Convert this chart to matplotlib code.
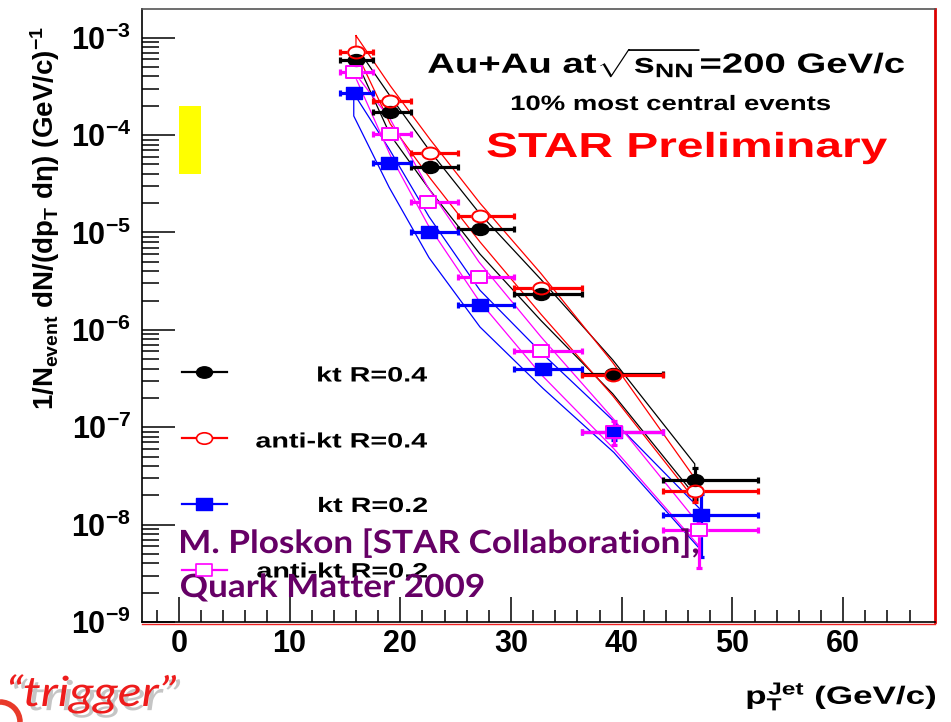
import numpy as np
import matplotlib
matplotlib.use("Agg")
import matplotlib.pyplot as plt
from matplotlib.path import Path
from matplotlib.transforms import Affine2D
from matplotlib.lines import Line2D
from matplotlib.patches import Rectangle, Arc, PathPatch
from matplotlib.textpath import TextPath
from matplotlib.font_manager import FontProperties
import matplotlib.patheffects as pe
from matplotlib.ticker import FixedLocator, FuncFormatter, NullFormatter

plt.rcParams['font.family'] = ['Liberation Sans', 'DejaVu Sans']
plt.rcParams['mathtext.fontset'] = 'custom'
plt.rcParams['mathtext.rm'] = 'Liberation Sans:bold'
plt.rcParams['mathtext.it'] = 'Liberation Sans:bold'
plt.rcParams['mathtext.bf'] = 'Liberation Sans:bold'
plt.rcParams['mathtext.sf'] = 'Liberation Sans:bold'

# ---------------- data ----------------
bin_edges = [14.6, 17.5, 21.0, 25.2, 30.3, 36.4, 43.7, 52.3]

kt04_x = [16.0, 19.1, 22.7, 27.2, 32.7, 39.2, 46.6]
kt04_y = [5.9e-4, 1.73e-4, 4.72e-5, 1.08e-5, 2.32e-6, 3.56e-7, 2.85e-8]
kt04_err = [1.0e-5, 3.0e-6, 8.0e-7, 2.0e-7, 6.0e-8, 1.5e-8, 1.0e-8]
kt04_up = [8.1e-4, 2.5e-4, 6.8e-5, 1.55e-5, 3.3e-6, 4.9e-7, 4.2e-8]
kt04_lo = [5.9e-4, 1.0e-4, 2.7e-5, 6.0e-6, 1.25e-6, 2.2e-7, 2.0e-8]

akt04_x = [16.0, 19.1, 22.7, 27.2, 32.7, 39.2, 46.6]
akt04_y = [7.2e-4, 2.23e-4, 6.5e-5, 1.48e-5, 2.72e-6, 3.47e-7, 2.2e-8]
akt04_err = [1.2e-5, 4.0e-6, 1.0e-6, 3.0e-7, 7.0e-8, 1.5e-8, 0.5e-8]
akt04_up = [1.05e-3, 3.2e-4, 9.0e-5, 2.0e-5, 3.8e-6, 4.6e-7, 3.0e-8]
akt04_lo = [7.2e-4, 1.3e-4, 3.6e-5, 8.0e-6, 1.45e-6, 2.1e-7, 1.8e-8]

kt02_x = [15.8, 19.0, 22.6, 27.2, 32.9, 39.3, 47.2]
kt02_y = [2.68e-4, 5.19e-5, 1.0e-5, 1.79e-6, 4.0e-7, 8.9e-8, 1.27e-8]
kt02_err = [6.0e-6, 1.0e-6, 2.0e-7, 4.0e-8, 1.2e-8, 1.5e-8, 0.8e-8]
kt02_up = [2.68e-4, 7.2e-5, 1.45e-5, 2.55e-6, 5.6e-7, 1.15e-7, 1.4e-8]
kt02_lo = [1.57e-4, 2.9e-5, 5.5e-6, 1.07e-6, 2.5e-7, 5.5e-8, 5.4e-9]

akt02_x = [15.8, 19.1, 22.5, 27.1, 32.7, 39.3, 47.0]
akt02_y = [4.48e-4, 1.02e-4, 2.06e-5, 3.5e-6, 6.07e-7, 9.0e-8, 8.9e-9]
akt02_err = [8.0e-6, 2.0e-6, 5.0e-7, 8.0e-8, 1.8e-8, 2.5e-8, 5.3e-9]
akt02_up = [4.48e-4, 1.45e-4, 2.9e-5, 5.0e-6, 8.5e-7, 1.2e-7, 1.0e-8]
akt02_lo = [4.3e-4, 6.2e-5, 1.2e-5, 2.0e-6, 3.5e-7, 6.0e-8, 6.0e-9]

norm_box_x = [0.0, 2.0]
norm_box_y = [4.0e-5, 2.0e-4]

legend_labels = ["kt R=0.4", "anti-kt R=0.4", "kt R=0.2", "anti-kt R=0.2"]
x_ticks = [0, 10, 20, 30, 40, 50, 60]
y_decades = [-9, -8, -7, -6, -5, -4, -3]

# ---------------- styles ----------------
ellipse = Path.unit_circle().transformed(Affine2D().scale(1.4, 1.0))
rect = Path([(-1.3, -1), (1.3, -1), (1.3, 1), (-1.3, 1), (-1.3, -1)],
            [Path.MOVETO, Path.LINETO, Path.LINETO, Path.LINETO, Path.CLOSEPOLY])

series = [
    dict(x=kt04_x, y=kt04_y, e=kt04_err, up=kt04_up, lo=kt04_lo, c='black',
         m=ellipse, ms=12, hollow=False),
    dict(x=akt04_x, y=akt04_y, e=akt04_err, up=akt04_up, lo=akt04_lo, c='#ff0000',
         m=ellipse, ms=12, hollow=True),
    dict(x=kt02_x, y=kt02_y, e=kt02_err, up=kt02_up, lo=kt02_lo, c='#0000ff',
         m=rect, ms=12, hollow=False),
    dict(x=akt02_x, y=akt02_y, e=akt02_err, up=akt02_up, lo=akt02_lo, c='#ff00ff',
         m=rect, ms=12, hollow=True),
]

W, H = 951, 722
fig = plt.figure(figsize=(W / 100, H / 100), dpi=100)
ax = fig.add_axes([142.3 / W, 1 - 622 / H, (935 - 142.3) / W, (622 - 9) / H])
ax.set_yscale('log')
ax.set_xlim(-3.3, 68.3)
ax.set_ylim(1e-9, 1.97e-3)


def px_text(x, y, s, size, sx=1.0, ha='left', color='black', family='Liberation Sans',
            weight='bold', style='normal', effects=None):
    """Text drawn as a path with its baseline at pixel row y, widened by sx."""
    fp = FontProperties(family=family, weight=weight, style=style)
    tp = TextPath((0, 0), s, size=size * 100 / 72, prop=fp)
    ext = tp.get_extents()
    if ha == 'right':
        x0 = x - ext.x1 * sx
    elif ha == 'center':
        x0 = x - 0.5 * (ext.x0 + ext.x1) * sx
    else:
        x0 = x - ext.x0 * sx
    tr = (Affine2D().scale(sx, 1).translate(x0, H - y).scale(1 / W, 1 / H)
          + fig.transFigure)
    patch = PathPatch(tp, transform=tr, facecolor=color, edgecolor='none', lw=0)
    if effects:
        patch.set_path_effects(effects)
    fig.add_artist(patch)
    return patch


# normalisation uncertainty box
ax.add_patch(Rectangle((norm_box_x[0], norm_box_y[0]), norm_box_x[1] - norm_box_x[0],
                       norm_box_y[1] - norm_box_y[0], facecolor='#ffff00',
                       edgecolor='none', zorder=1))

# systematic bands as closed outlines
for s in series:
    bx = list(s['x']) + list(s['x'])[::-1] + [s['x'][0]]
    by = list(s['up']) + list(s['lo'])[::-1] + [s['up'][0]]
    ax.plot(bx, by, color=s['c'], lw=0.9, zorder=2)

# error bars
for s in series:
    x = np.array(s['x'])
    lo_edge = np.array(bin_edges[:-1])
    hi_edge = np.array(bin_edges[1:])
    xerr = [x - lo_edge, hi_edge - x]
    ax.errorbar(x, s['y'], xerr=xerr, yerr=s['e'], fmt='none', ecolor=s['c'],
                elinewidth=2.3, capsize=2.2, capthick=2.3, zorder=3)

# markers: white backs for hollow, then filled, then hollow outlines
for s in series:
    if s['hollow']:
        ax.plot(s['x'], s['y'], ls='none', marker=s['m'], ms=s['ms'],
                mfc='white', mec='white', zorder=4)
for s in series:
    if not s['hollow']:
        ax.plot(s['x'], s['y'], ls='none', marker=s['m'], ms=s['ms'],
                mfc=s['c'], mec=s['c'], zorder=5)
for s in series:
    if s['hollow']:
        ax.plot(s['x'], s['y'], ls='none', marker=s['m'], ms=s['ms'],
                mfc='none', mec=s['c'], mew=1.4, zorder=6)

# axes frame and ticks
for side in ['top', 'left', 'bottom']:
    ax.spines[side].set_color('black')
    ax.spines[side].set_linewidth(1.2)
ax.spines['top'].set_color('#555555')
ax.spines['right'].set_color('#dd0000')
ax.spines['right'].set_linewidth(2.0)

ax.xaxis.set_major_locator(FixedLocator(x_ticks))
ax.xaxis.set_minor_locator(FixedLocator(np.arange(-2, 68, 2)))
ax.yaxis.set_major_locator(FixedLocator([10.0 ** d for d in y_decades]))
minors = [m * 10.0 ** d for d in range(-9, -2) for m in range(2, 10)]
ax.yaxis.set_minor_locator(FixedLocator(minors))
ax.yaxis.set_minor_formatter(NullFormatter())
ax.yaxis.set_major_formatter(FuncFormatter(
    lambda v, p: r'$\mathbf{10^{%d}}$' % int(round(np.log10(v)))))
ax.xaxis.set_major_formatter(FuncFormatter(lambda v, p: '%d' % v))

ax.tick_params(axis='x', which='major', direction='in', length=18, width=1.1,
               labelsize=22, pad=5, top=False)
ax.tick_params(axis='x', which='minor', direction='in', length=9, width=1.1, top=False)
ax.tick_params(axis='y', which='major', direction='in', length=24, width=1.1,
               labelsize=22, pad=8, right=False)
ax.tick_params(axis='y', which='minor', direction='in', length=12, width=1.1, right=False)
for lab in ax.get_xticklabels():
    lab.set_fontweight('bold')

# red slide line under the bottom axis
fig.add_artist(Line2D([142.3 / W, 935 / W], [1 - 624 / H, 1 - 624 / H],
                      color='#ee2222', lw=1.0))

# axis titles
fig.text(45 / W, 1 - 218 / H,
         r'$1/N_{event}\ dN/(dp_{T}\ d\eta)\ (GeV/c)^{-1}$',
         rotation=90, ha='center', va='center', fontsize=20)
px_text(935, 704, r'$p_{T}^{Jet}$ (GeV/c)', 18, sx=1.4, ha='right')

# annotations
px_text(904, 73, r'Au+Au at$\sqrt{s_{NN}}$=200 GeV/c', 20, sx=1.38, ha='right')
px_text(830, 110, '10% most central events', 15, sx=1.32, ha='right')
px_text(887, 157, 'STAR Preliminary', 25, sx=1.38, ha='right', color='#ff0000')

# legend
marker_rows = [372, 438, 504, 570]
text_rows = [381.5, 447.5, 512, 577.5]
for s, lab, yy, ty in zip(series, legend_labels, marker_rows, text_rows):
    fy = 1 - yy / H
    fig.add_artist(Line2D([182 / W, 227 / W], [fy, fy], color=s['c'], lw=1.6))
    if s['hollow']:
        fig.add_artist(Line2D([204 / W], [fy], ls='none', marker=s['m'], ms=11.5,
                              mfc='white', mec=s['c'], mew=1.2))
    else:
        fig.add_artist(Line2D([204 / W], [fy], ls='none', marker=s['m'], ms=11.5,
                              mfc=s['c'], mec=s['c']))
    px_text(427, ty, lab, 15, sx=1.38, ha='right')

# citation
purple = '#660066'
px_text(181, 553, 'M. Ploskon [STAR Collaboration],', 23, sx=1.1, family='Lato',
        color=purple)
px_text(181, 597, 'Quark Matter 2009', 23, sx=1.1, family='Lato', color=purple)

# slide caption
px_text(10, 706, '\u201ctrigger\u201d', 30, sx=1.2, family='Lato', weight='normal',
        style='italic', color='#ee1c1c',
        effects=[pe.SimplePatchShadow(offset=(3, -3), shadow_rgbFace='0.5', alpha=0.45),
                 pe.Normal()])
fig.add_artist(Arc((0, 0), 40 / W, 40 / H, theta1=0, theta2=90,
                   transform=fig.transFigure, color='#e83a2a', lw=4))

fig.savefig('out.png', dpi=100)
